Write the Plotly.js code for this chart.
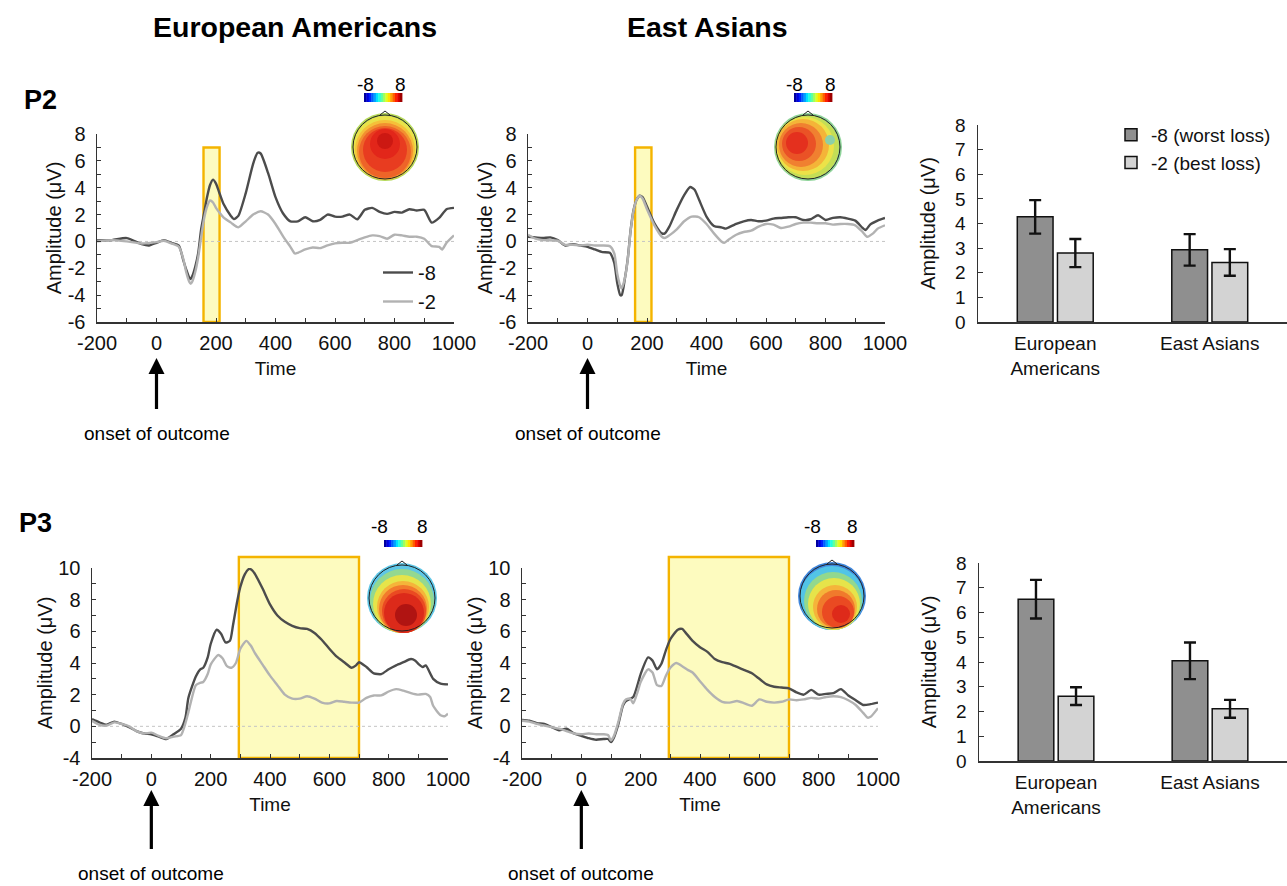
<!DOCTYPE html>
<html><head><meta charset="utf-8">
<script src="https://cdn.plot.ly/plotly-3.0.1.min.js"></script>
<style>html,body{margin:0;padding:0;background:#fff}#chart{width:1287px;height:886px}</style>
</head><body><div id="chart"></div>
<script>
// ---------------- data ----------------
// P2, European Americans
const A_t_worst = [-200,-150,-100,-50,-25,0,25,50,75,90,100,110,115,120,130,140,150,160,170,180,190,200,210,225,250,260,275,300,325,340,350,375,400,425,450,475,500,525,550,575,600,625,650,675,700,725,750,775,800,825,850,875,900,925,950,975,1000];
const A_worst = [0.07,0.1,0.25,-0.2,-0.3,-0.1,0.1,-0.1,-0.3,-1.4,-2.1,-2.7,-2.8,-2.6,-1.9,-0.9,0.9,2.1,3.3,4.2,4.6,4.3,3.7,2.8,1.9,1.66,1.9,3.6,5.8,6.6,6.55,5.1,3.3,2.1,1.5,1.5,1.8,1.5,1.6,2.0,1.85,1.85,2.0,1.65,2.35,2.5,2.2,2.05,2.2,2.15,2.4,2.3,2.35,1.4,1.75,2.4,2.5];
const A_t_best = [-200,-150,-100,-50,0,25,50,75,90,100,110,115,120,130,140,150,160,170,180,190,200,210,225,250,275,300,325,350,375,400,425,450,465,475,500,525,550,575,600,625,650,675,700,725,750,775,800,825,850,875,900,925,950,960,975,1000];
const A_best = [0.0,0.1,0.0,-0.15,-0.05,0.05,-0.15,-0.4,-1.3,-2.3,-3.0,-3.15,-3.0,-2.3,-1.2,0.3,1.7,2.6,3.05,2.9,2.5,2.2,1.8,1.4,1.05,1.5,2.0,2.25,2.0,1.3,0.4,-0.4,-0.9,-0.85,-0.6,-0.45,-0.5,-0.3,-0.15,-0.1,-0.1,0.1,0.3,0.45,0.4,0.2,0.5,0.45,0.35,0.35,0.2,-0.35,-0.4,-0.6,-0.1,0.45];
// P2, East Asians
const B_t_worst = [-200,-175,-150,-125,-100,-75,-50,-25,0,25,50,75,90,100,110,115,125,135,145,155,165,175,185,200,225,250,260,275,300,325,345,360,375,400,425,450,465,475,500,525,550,575,600,625,650,675,700,725,750,775,800,825,850,875,900,925,935,950,975,1000];
const B_worst = [0.35,0.3,0.25,0.3,0.1,-0.3,-0.2,-0.3,-0.4,-0.6,-0.8,-0.85,-1.6,-3.1,-4.0,-4.0,-2.85,-1.35,0.85,2.35,3.1,3.4,3.3,2.6,1.35,0.6,0.6,1.1,2.35,3.45,4.05,3.85,3.1,1.85,1.15,1.05,0.95,1.05,1.3,1.5,1.6,1.5,1.55,1.7,1.75,1.8,1.8,1.6,1.65,1.95,1.6,1.75,1.8,1.7,1.55,1.0,0.85,1.25,1.55,1.75];
const B_t_best = [-200,-175,-150,-100,-75,-50,-25,0,25,50,75,90,100,110,115,125,135,145,155,165,175,185,200,225,250,260,275,300,325,350,375,400,425,450,460,475,500,525,550,575,600,625,650,675,700,725,750,775,800,825,850,875,900,925,940,960,975,1000];
const B_best = [0.5,0.2,0.1,0.05,-0.25,-0.25,-0.3,-0.25,-0.3,-0.3,-0.35,-0.9,-2.4,-3.3,-3.5,-2.8,-1.4,0.8,2.3,3.1,3.4,3.2,2.4,1.2,0.35,0.25,0.45,0.9,1.5,1.85,1.8,1.3,0.6,0.0,-0.1,0.15,0.5,0.7,0.8,1.1,1.3,1.25,1.0,1.1,1.3,1.4,1.4,1.35,1.35,1.25,1.3,1.3,1.2,0.7,0.35,0.6,0.95,1.2];
// P3, European Americans
const C_t_worst = [-200,-175,-150,-125,-100,-75,-50,-25,0,25,50,75,100,115,125,150,165,175,190,200,220,235,250,265,275,290,300,315,330,340,350,375,400,425,450,475,500,525,550,575,600,625,650,675,690,700,725,750,775,800,825,850,875,890,900,915,925,950,975,1000];
const C_worst = [0.45,0.25,0.1,0.3,0.15,-0.05,-0.3,-0.45,-0.5,-0.65,-0.8,-0.5,-0.15,0.55,1.8,3.15,3.6,3.7,4.35,5.2,6.1,5.85,5.3,5.4,6.35,7.95,8.8,9.6,9.95,9.85,9.6,8.7,7.7,7.0,6.6,6.35,6.2,6.15,5.9,5.45,4.9,4.4,4.05,3.7,3.85,4.05,3.75,3.35,3.3,3.6,3.85,4.05,4.25,4.15,3.95,3.75,3.85,3.0,2.7,2.65];
const C_t_best = [-200,-175,-150,-125,-100,-75,-50,-25,0,25,50,75,100,115,125,150,165,175,190,200,225,240,255,270,285,300,320,335,350,375,400,425,450,475,500,525,550,575,600,625,650,675,700,725,750,775,800,825,850,875,900,925,940,950,975,990,1000];
const C_best = [0.35,0.1,0.05,0.25,0.15,0.0,-0.3,-0.45,-0.4,-0.6,-0.75,-0.65,-0.55,0.2,0.9,2.6,2.75,2.8,3.3,3.9,4.5,4.3,3.8,3.7,4.0,4.9,5.4,5.1,4.6,3.9,3.2,2.6,2.0,1.75,1.75,1.9,1.75,1.5,1.45,1.6,1.55,1.5,1.5,1.8,1.95,1.95,2.2,2.35,2.25,2.1,2.0,2.05,1.85,1.3,0.7,0.65,0.8];
// P3, East Asians
const D_t_worst = [-200,-175,-150,-125,-100,-75,-50,-25,0,25,50,75,90,100,110,125,140,150,175,190,200,225,240,255,270,285,300,325,340,350,375,400,425,450,475,500,525,550,575,600,625,650,675,700,725,750,775,800,825,850,875,900,925,950,975,1000];
const D_worst = [0.4,0.35,0.2,0.15,-0.05,-0.25,-0.15,-0.45,-0.6,-0.75,-0.85,-0.8,-0.8,-1.0,-0.7,0.15,1.3,1.6,1.85,2.65,3.3,4.35,4.15,3.6,3.95,4.8,5.5,6.1,6.15,5.95,5.4,5.0,4.7,4.25,4.05,3.95,3.75,3.55,3.35,3.0,2.65,2.5,2.45,2.4,2.15,2.0,2.3,2.0,2.05,2.1,2.35,1.95,1.65,1.35,1.4,1.5];
const D_t_best = [-200,-175,-150,-125,-100,-75,-50,-25,0,25,50,75,90,100,110,125,140,150,165,175,190,200,225,240,255,270,285,300,320,340,360,375,400,425,450,475,500,525,550,575,600,625,650,675,700,725,750,775,800,825,850,875,900,925,950,965,975,1000];
const D_best = [0.35,0.3,0.15,0.05,-0.05,-0.15,-0.3,-0.45,-0.5,-0.45,-0.5,-0.5,-0.55,-0.9,-0.6,0.3,1.4,1.7,1.75,1.45,2.2,2.8,3.6,3.4,2.6,2.55,3.2,3.7,4.0,3.8,3.55,3.4,2.85,2.3,1.85,1.55,1.5,1.6,1.45,1.3,1.7,1.55,1.5,1.55,1.7,1.65,1.7,1.8,1.75,1.85,1.9,1.85,1.65,1.35,0.85,0.55,0.6,1.15];

// bar charts
const groups = ["European<br>Americans", "East Asians"];
const P2_worst = [4.27, 2.93], P2_worst_err = [0.68, 0.64];
const P2_best  = [2.80, 2.42], P2_best_err  = [0.57, 0.54];
const P3_worst = [6.54, 4.05], P3_worst_err = [0.78, 0.74];
const P3_best  = [2.62, 2.11], P3_best_err  = [0.36, 0.36];

// tick labels (hyphen minus, as printed)
const timeTicks = [-200, 0, 200, 400, 600, 800, 1000];
const timeTickText = ["-200", "0", "200", "400", "600", "800", "1000"];
const p2Ticks = [-6, -4, -2, 0, 2, 4, 6, 8];
const p2TickText = ["-6", "-4", "-2", "0", "2", "4", "6", "8"];
const p3Ticks = [-2, 0, 2, 4, 6, 8, 10];
const p3TickText = ["-4", "0", "2", "4", "6", "8", "10"];

const lineNames = ["-8", "-2"];
const barNames = ["-8 (worst loss)", "-2 (best loss)"];
const P2_window = [158, 212];
const P3_window = [295, 700];
const onsetLabel = "onset of outcome";

// ---------------- layout helpers ----------------
const W = 1287, H = 886;
const px = v => v / W;
const py = v => 1 - v / H;
const FONT = "Liberation Sans, Arial, sans-serif";
const DARK = "#4c4c4c", LIGHT = "#b2b2b2";

const traces = [];
function erp(xa, ya, tw, w, tb, b, legendOn) {
  traces.push({type:"scatter", mode:"lines", x:tw, y:w, xaxis:xa, yaxis:ya, name:lineNames[0],
    line:{color:DARK, width:2.4, shape:"spline", smoothing:0.6}, showlegend:legendOn, legend:"legend2", hoverinfo:"skip"});
  traces.push({type:"scatter", mode:"lines", x:tb, y:b, xaxis:xa, yaxis:ya, name:lineNames[1],
    line:{color:LIGHT, width:2.4, shape:"spline", smoothing:0.6}, showlegend:legendOn, legend:"legend2", hoverinfo:"skip"});
}
erp("x","y",A_t_worst,A_worst,A_t_best,A_best,true);
erp("x2","y2",B_t_worst,B_worst,B_t_best,B_best,false);
erp("x3","y3",C_t_worst,C_worst,C_t_best,C_best,false);
erp("x4","y4",D_t_worst,D_worst,D_t_best,D_best,false);

function bars(xa, ya, worst, we, best, be, legendOn) {
  traces.push({type:"bar", x:groups, y:worst, xaxis:xa, yaxis:ya, name:barNames[0], showlegend:legendOn, legend:"legend",
    marker:{color:"#8f8f8f", line:{color:"#111", width:1.5}},
    error_y:{type:"data", array:we, visible:true, color:"#111", thickness:2.4, width:6}});
  traces.push({type:"bar", x:groups, y:best, xaxis:xa, yaxis:ya, name:barNames[1], showlegend:legendOn, legend:"legend",
    marker:{color:"#d3d3d3", line:{color:"#111", width:1.5}},
    error_y:{type:"data", array:be, visible:true, color:"#111", thickness:2.4, width:6}});
}
bars("x5","y5",P2_worst,P2_worst_err,P2_best,P2_best_err,true);
bars("x6","y6",P3_worst,P3_worst_err,P3_best,P3_best_err,false);

function xTime(d0, d1, anchor) {
  return {domain:[px(d0), px(d1)], anchor:anchor, range:[-200,1000], tickmode:"array", tickvals:timeTicks, ticktext:timeTickText,
    ticks:"inside", ticklen:4, tickcolor:"#333", showline:true, linecolor:"#333", linewidth:1.5,
    showgrid:false, zeroline:false, tickfont:{size:20}, ticklabelstandoff:2,
    minor:{tickmode:"linear", tick0:-200, dtick:100, ticks:"inside", ticklen:4, tickcolor:"#333"},
    title:{text:"Time", font:{size:19}, standoff:9}};
}
function yAmp(t0, t1, anchor, range, tv, tt) {
  return {domain:[py(t1), py(t0)], anchor:anchor, range:range, tickmode:"array", tickvals:tv, ticktext:tt,
    ticks:"inside", ticklen:4, tickcolor:"#333", showline:true, linecolor:"#333", linewidth:1.5,
    showgrid:false, zeroline:false, tickfont:{size:20}, ticklabelstandoff:6,
    minor:{tickmode:"linear", tick0:0, dtick:1, ticks:"inside", ticklen:4, tickcolor:"#333"},
    title:{text:"Amplitude (μV)", font:{size:20}, standoff:0}};
}
function xBar(d0, anchor) {
  return {domain:[px(d0), 1], anchor:anchor, type:"category", showline:true, linecolor:"#333", linewidth:1.5,
    ticks:"", showgrid:false, tickfont:{size:19}, ticklabelstandoff:4};
}
function yBar(t0, t1, anchor) {
  return {domain:[py(t1), py(t0)], anchor:anchor, range:[0,8], dtick:1, ticks:"inside", ticklen:5, tickcolor:"#333",
    showline:true, linecolor:"#333", linewidth:1.5, showgrid:false, zeroline:false, tickfont:{size:19},
    ticklabelstandoff:7, title:{text:"Amplitude (μV)", font:{size:20}, standoff:14}};
}

const shapes = [];
// highlighted analysis windows
const winStyle = {line:{color:"#f4b400", width:2.4}, fillcolor:"#fdfbbf", layer:"below"};
shapes.push(Object.assign({type:"rect", xref:"x", yref:"y", x0:P2_window[0], x1:P2_window[1], y0:-6, y1:7}, winStyle));
shapes.push(Object.assign({type:"rect", xref:"x2", yref:"y2", x0:P2_window[0]+2, x1:P2_window[1]+3, y0:-6, y1:7}, winStyle));
shapes.push(Object.assign({type:"rect", xref:"x3", yref:"paper", x0:P3_window[0], x1:P3_window[1], y0:py(758), y1:py(557)}, winStyle));
shapes.push(Object.assign({type:"rect", xref:"x4", yref:"paper", x0:P3_window[0], x1:P3_window[1], y0:py(758), y1:py(557)}, winStyle));
// dotted zero lines
[["x","y"],["x2","y2"],["x3","y3"],["x4","y4"]].forEach(([xa,ya]) => {
  shapes.push({type:"line", xref:xa, yref:ya, x0:-200, x1:1000, y0:0, y1:0, layer:"below",
    line:{color:"#c4c4c4", width:1, dash:"dot"}});
});

// scalp maps (decorative topography drawn as nested filled circles)
function circle(cx, cy, r, color, outline) {
  return {type:"circle", xref:"paper", yref:"paper", x0:px(cx-r), x1:px(cx+r), y0:py(cy+r), y1:py(cy-r),
    fillcolor: outline ? "rgba(0,0,0,0)" : color, line: outline ? {color:"#222", width:1} : {width:0}};
}
function head(cx, cy, R, layers) {
  layers.forEach(l => shapes.push(circle(l[0], l[1], l[2], l[3], false)));
  shapes.push(circle(cx, cy, R - 2, null, true));
  shapes.push({type:"path", xref:"paper", yref:"paper",
    path:`M ${px(cx-5)} ${py(cy-R+2)} L ${px(cx)} ${py(cy-R-2)} L ${px(cx+5)} ${py(cy-R+2)}`,
    line:{color:"#222", width:1}});
}
head(385,147,34,[[385,147,34,"#b5d95a"],[385,148,32,"#e9e24a"],[385,150,30,"#f5c03a"],[385,151,28,"#f29030"],[385,152,26,"#ee6428"],[385,150,22,"#e83c20"],[385,144,15,"#e2261a"],[385,141,8,"#cc1812"]]);
head(808,147,34,[[808,147,34,"#8fd49a"],[807,147,32,"#c4de56"],[805,146,29,"#ece248"],[803,145,26,"#f4b438"],[801,145,22,"#f08030"],[799,144,17,"#ea5226"],[797,143,11,"#e4301e"],[830,140,5,"#8cd0a8"]]);
head(402,598,35,[[402,598,35,"#5ec6e6"],[402,601,32,"#94d890"],[402,604,29,"#e6e44a"],[403,607,26,"#f5b43a"],[403,609,24,"#f27a2c"],[404,611,22,"#ea4a22"],[404,613,20,"#dc2a1a"],[406,615,11,"#b01412"]]);
head(832,596,34,[[832,596,34,"#3f86dc"],[832,598,32,"#52c4e6"],[833,601,29,"#92d88e"],[834,604,26,"#e6e44a"],[835,607,22,"#f5b43a"],[836,609,19,"#f07a2c"],[838,612,16,"#ea4a22"],[841,614,9,"#de2a1a"]]);

// jet colour strips
function jet(t) {
  const c = v => Math.round(255 * Math.max(0, Math.min(1, v)));
  return `rgb(${c(1.5-Math.abs(4*t-3))},${c(1.5-Math.abs(4*t-2))},${c(1.5-Math.abs(4*t-1))})`;
}
function strip(x0, x1, y0, y1) {
  const n = 16, w = (x1 - x0) / n;
  for (let i = 0; i < n; i++) {
    shapes.push({type:"rect", xref:"paper", yref:"paper", x0:px(x0+i*w), x1:px(x0+(i+1)*w+0.4), y0:py(y1), y1:py(y0),
      fillcolor:jet((i+0.5)/n), line:{width:0}});
  }
}
strip(364,402,93,102); strip(794,832,93,102); strip(384,422,540,547); strip(816,854,540,547);

const ann = [];
function txt(x, y, s, size, bold) {
  ann.push({xref:"paper", yref:"paper", x:px(x), y:py(y), text: bold ? "<b>"+s+"</b>" : s,
    showarrow:false, xanchor:"center", yanchor:"middle", font:{size:size, color:"#000"}});
}
txt(295, 27, "European Americans", 28.5, true);
txt(707, 27, "East Asians", 28.5, true);
txt(40, 100, "P2", 27, true);
txt(35, 523, "P3", 27, true);
txt(365, 84, "-8", 19); txt(400, 84, "8", 19);
txt(795, 84, "-8", 19); txt(830, 84, "8", 19);
txt(380, 526, "-8", 19); txt(422, 526, "8", 19);
txt(812, 526, "-8", 19); txt(853, 526, "8", 19);

function onset(xa, headY, dy) {
  ann.push({xref:xa, yref:"paper", x:0, y:py(headY), ax:0, ay:dy, text:onsetLabel, showarrow:true,
    arrowhead:2, arrowsize:1, arrowwidth:3.2, arrowcolor:"#000", startstandoff:12, font:{size:19, color:"#000"}});
}
onset("x", 358, 75);
onset("x2", 358, 75);
onset("x3", 790, 83);
onset("x4", 790, 83);

const layout = {
  width:W, height:H, margin:{l:0,r:0,t:0,b:0}, paper_bgcolor:"#fff", plot_bgcolor:"rgba(0,0,0,0)",
  font:{family:FONT, color:"#111", size:19},
  barmode:"group", bargap:0.48, bargroupgap:0.11,
  xaxis: xTime(97, 454, "y"),  yaxis: yAmp(134, 322, "x", [-6,8], p2Ticks, p2TickText),
  xaxis2: xTime(528, 885, "y2"), yaxis2: yAmp(134, 322, "x2", [-6,8], p2Ticks, p2TickText),
  xaxis3: xTime(92, 448, "y3"), yaxis3: yAmp(568, 758, "x3", [-2,10], p3Ticks, p3TickText),
  xaxis4: xTime(522, 878, "y4"), yaxis4: yAmp(568, 758, "x4", [-2,10], p3Ticks, p3TickText),
  xaxis5: xBar(978, "y5"), yaxis5: yBar(125, 322, "x5"),
  xaxis6: xBar(979, "y6"), yaxis6: yBar(563, 761, "x6"),
  legend:{x:px(1111), y:py(116), xanchor:"left", yanchor:"top", bgcolor:"rgba(0,0,0,0)", font:{size:19}, itemwidth:30, tracegroupgap:0},
  legend2:{x:px(378), y:py(253), xanchor:"left", yanchor:"top", bgcolor:"rgba(0,0,0,0)", font:{size:20}, itemwidth:30},
  shapes:shapes, annotations:ann, showlegend:true
};
Plotly.newPlot("chart", traces, layout, {displayModeBar:false, staticPlot:true});
</script></body></html>
